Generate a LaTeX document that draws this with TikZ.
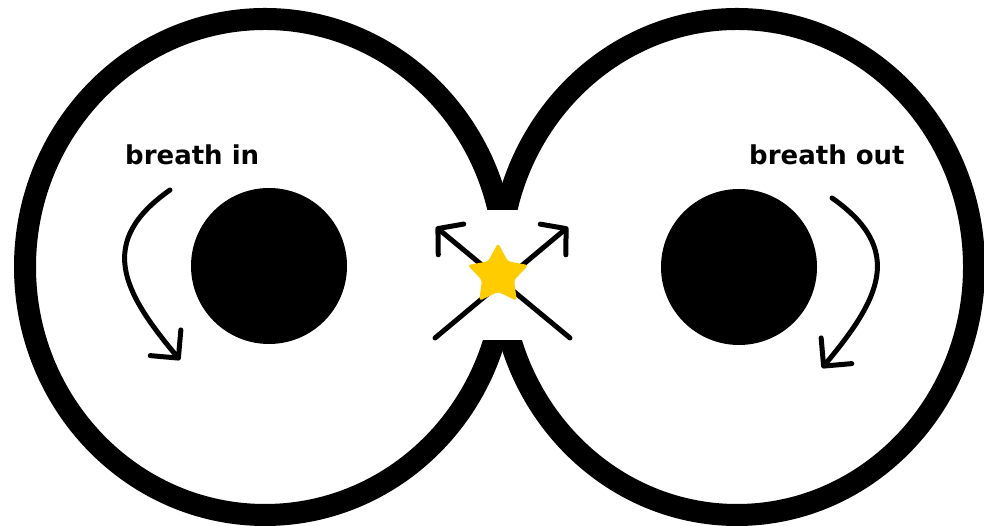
\documentclass[tikz,border=0pt]{standalone}
\usepackage{fontspec}
\setmainfont{DejaVu Sans}
\usepackage{tikz}
\usetikzlibrary{positioning}
\usetikzlibrary{calc}
\usetikzlibrary{arrows.meta}
\usetikzlibrary{shapes.geometric}
\definecolor{stargold}{HTML}{FFCC00}

\begin{document}
\begin{tikzpicture}[x=1pt,y=1pt,
  loopline/.style={line width=22pt},
  pupil/.style={circle,fill=black,inner sep=0pt,minimum size=156pt},
  flow/.style={line width=5pt,line cap=round,-{Straight Barb[length=20pt,width=40pt,round]}},
  cross/.style={line width=5pt,line cap=round,-{Straight Barb[length=17pt,width=40pt,round]}},
  spark/.style={star,star points=5,star point ratio=1.9,fill=stargold,inner sep=0pt,minimum size=64pt,rounded corners=3pt},
  lbl/.style={anchor=base west,inner sep=0pt,font=\fontsize{26}{30}\selectfont\bfseries}]
  \useasboundingbox (0,0) rectangle (984,526);

  % the two loops of the eight, opened where they meet
  \coordinate (lc) at (265,259);
  \coordinate (rc) at (737,259);
  \draw[loopline] (lc) ellipse[x radius=240,y radius=248];
  \draw[loopline] (rc) ellipse[x radius=237,y radius=248];
  \fill[white] (478,186) rectangle (524,316);

  % centres of each loop
  \node[pupil] (inpupil) at (269,260) {};
  \node[pupil] (outpupil) at (739,259) {};

  % crossing in the middle, star on top
  \coordinate (xbl) at (435,188);
  \coordinate (xtr) at (568,299);
  \coordinate (xbr) at (570,188);
  \coordinate (xtl) at (436,299);
  \draw[cross] (xbl) -- (xtr);
  \draw[cross] (xbr) -- (xtl);
  \node[spark] (mid) at (498,251) {};

  % direction of the breath
  \coordinate (ins) at (170,336);
  \coordinate (ine) at (180,166);
  \coordinate (outs) at (832,328);
  \coordinate (oute) at (822,158);
  \draw[flow] (ins) to[out=215,in=130,looseness=1.35] (ine);
  \draw[flow] (outs) to[out=-35,in=50,looseness=1.35] (oute);

  \node[lbl] (inlbl) at (125,361) {breath in};
  \node[lbl] (outlbl) at (749,361) {breath out};
\end{tikzpicture}
\end{document}
